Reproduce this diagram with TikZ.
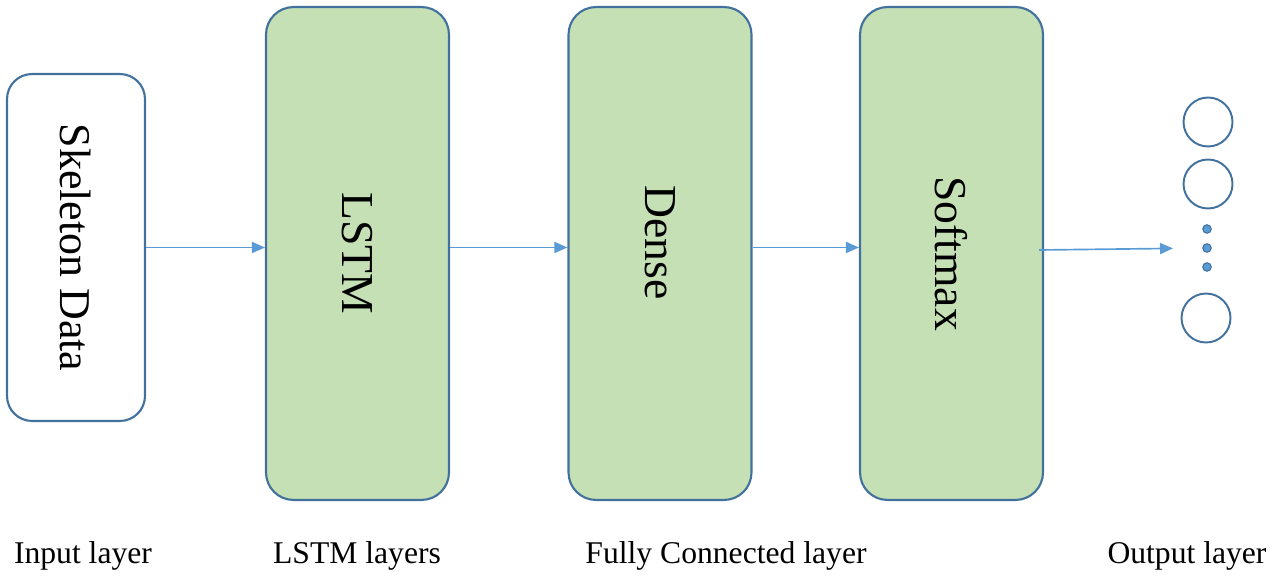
\documentclass[tikz,border=0pt]{standalone}
\usepackage{fontspec}
\setmainfont{Liberation Serif}
\usepackage{graphicx}
\usepackage{xcolor}
\usetikzlibrary{arrows.meta, positioning, calc}
\definecolor{layerfill}{HTML}{C5E0B4}
\definecolor{layerline}{HTML}{41719C}
\definecolor{flowline}{HTML}{5B9BD5}
\tikzset{%
  layer/.style={draw=layerline, line width=1.2pt, fill=layerfill, rounded corners=0.55cm,
    minimum width=3.66cm, minimum height=9.86cm, inner sep=0mm, font=\fontsize{26}{30}\selectfont},
  inputbox/.style={layer, fill=white, rounded corners=0.5cm, minimum width=2.76cm, minimum height=6.94cm,
    font=\fontsize{25}{29}\selectfont},
  flow/.style={draw=flowline, line width=0.95pt, -{Triangle[length=0.26cm, width=0.22cm]}},
  unit/.style={draw=layerline, line width=1.1pt, circle, minimum size=0.98cm, inner sep=0mm},
  dotunit/.style={draw=layerline, line width=0.6pt, fill=flowline, circle, minimum size=0.17cm, inner sep=0mm},
  caption/.style={font=\fontsize{18}{21}\selectfont, inner sep=0mm}
}
\begin{document}
\begin{tikzpicture}[x=0.02cm, y=-0.02cm]
  \useasboundingbox (0,0) rectangle (1283,577);

  \node[inputbox] (input) at (76,247.5) {\rotatebox{-90}{Skeleton Data}};
  \node[layer] (lstm) at (357.5,253.5) {\rotatebox{-90}{LSTM}};
  \node[layer] (dense) at (660,253.5) {\rotatebox{-90}{Dense\hspace{0.45cm}}};
  \node[layer] (softmax) at (951.5,253.5) {\rotatebox{-90}{Softmax}};

  \node[unit] (o1) at (1208,122) {};
  \node[unit] (o2) at (1208,184) {};
  \node[dotunit] (d1) at (1207,229) {};
  \node[dotunit] (d2) at (1207,248) {};
  \node[dotunit] (d3) at (1207,267) {};
  \node[unit] (o3) at (1206,318) {};

  \draw[flow] (input.east) -- (input.east -| lstm.west);
  \draw[flow] (lstm.east |- input.east) -- (input.east -| dense.west);
  \draw[flow] (dense.east |- input.east) -- (input.east -| softmax.west);
  \draw[flow, shorten >=0.68cm] ([xshift=-0.1cm, yshift=-0.04cm]softmax.east |- d2) -- (d2.center);

  \node[caption] (incap) at (83,556) {Input layer};
  \node[caption] (lstmcap) at (357,556) {LSTM layers};
  \node[caption] (fccap) at (726,556) {Fully Connected layer};
  \node[caption] (outcap) at (1187,556) {Output layer};
\end{tikzpicture}
\end{document}
